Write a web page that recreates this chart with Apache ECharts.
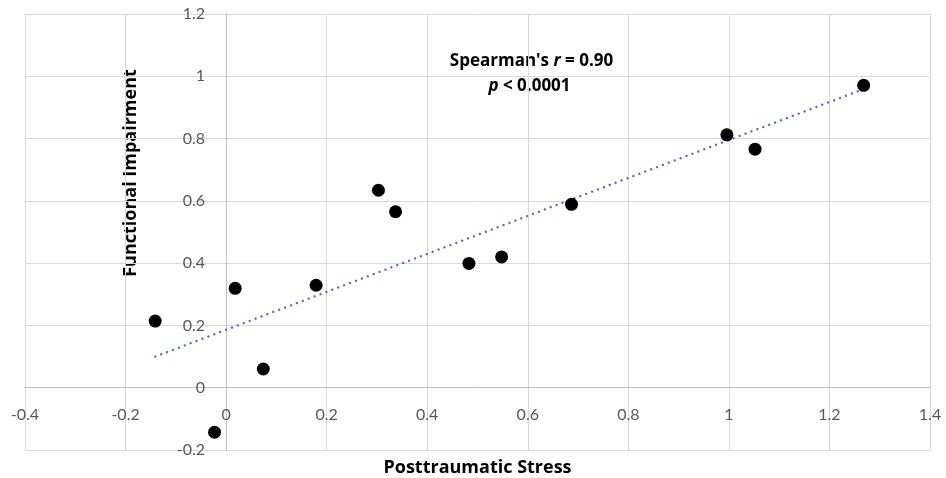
<!DOCTYPE html>
<html>
<head>
<meta charset="utf-8">
<script src="https://cdn.jsdelivr.net/npm/echarts@6/dist/echarts.min.js"></script>
<style>html,body{margin:0;padding:0;background:#fff}#c{width:946px;height:478px}</style>
</head>
<body>
<div id="c"></div>
<script>
// Data
var stressX = [-0.141, 0.018, -0.023, 0.074, 0.179, 0.303, 0.337, 0.483, 0.548, 0.687, 0.996, 1.052, 1.268];
var impairY = [0.214, 0.319, -0.143, 0.060, 0.329, 0.634, 0.565, 0.399, 0.420, 0.589, 0.812, 0.766, 0.971];
var trendX = [-0.141, 1.265];
var trendY = [0.100, 0.957];
var xTitle = 'Posttraumatic Stress';
var yTitle = 'Functional Impairment';

var pts = stressX.map(function (x, i) { return [x, impairY[i]]; });
var trend = trendX.map(function (x, i) { return [x, trendY[i]]; });

var FONT = 'Lato';
var BFONT = 'Open Sans';
var gl = 25, gr = 16, gt = 14, gb = 28, W = 946, H = 478;
var xMin = -0.4, xMax = 1.4, yMin = -0.2, yMax = 1.2;
var pw = W - gl - gr, ph = H - gt - gb;
// axes cross at zero (as in the reference): shift axes to the zero position
var yAxisOffset = -((0 - xMin) / (xMax - xMin) * pw);
var xAxisOffset = -((0 - yMin) / (yMax - yMin) * ph);

var chart = echarts.init(document.getElementById('c'), null, { renderer: 'canvas' });
chart.setOption({
  animation: false,
  backgroundColor: '#ffffff',
  grid: { left: gl, right: gr, top: gt, bottom: gb, containLabel: false, outerBoundsMode: 'none' },
  xAxis: {
    type: 'value', min: xMin, max: xMax, interval: 0.2, offset: xAxisOffset,
    axisLine: { show: true, onZero: false, lineStyle: { color: '#bfbfbf', width: 1 } },
    axisTick: { show: false },
    axisLabel: { color: '#595959', fontFamily: FONT, fontSize: 16, margin: 19,
      formatter: function (v) { return String(Math.round(v * 10) / 10); } },
    splitLine: { show: true, lineStyle: { color: '#d9d9d9', width: 1 } }
  },
  yAxis: {
    type: 'value', min: yMin, max: yMax, interval: 0.2, offset: yAxisOffset,
    axisLine: { show: true, onZero: false, lineStyle: { color: '#bfbfbf', width: 1 } },
    axisTick: { show: false },
    axisLabel: { color: '#595959', fontFamily: FONT, fontSize: 16, margin: 21,
      formatter: function (v) { return String(Math.round(v * 10) / 10); } },
    splitLine: { show: true, lineStyle: { color: '#d9d9d9', width: 1 } }
  },
  series: [
    {
      type: 'line', data: trend, symbol: 'none', silent: true, z: 2,
      lineStyle: { color: '#4472C4', width: 2.4, type: [0.01, 6.3], cap: 'round' }
    },
    {
      type: 'scatter', data: pts, symbol: 'circle', symbolSize: 13, z: 3,
      itemStyle: { color: '#000000', opacity: 1 }
    }
  ],
  graphic: [
    { type: 'text', x: 477.5, y: 468,
      style: { text: xTitle, fontFamily: BFONT, fontWeight: 'bold', fontSize: 18, fill: '#000',
        align: 'center', verticalAlign: 'middle' } },
    { type: 'text', x: 131, y: 173, rotation: Math.PI / 2,
      style: { text: yTitle, fontFamily: BFONT, fontWeight: 'bold', fontSize: 18, fill: '#000',
        align: 'center', verticalAlign: 'middle' } },
    { type: 'text', x: 531.5, y: 61,
      style: { text: "{b|Spearman's }{i|r}{b| = 0.90}", align: 'center', verticalAlign: 'middle',
        rich: {
          b: { fontFamily: BFONT, fontWeight: 'bold', fontSize: 17, color: '#000' },
          i: { fontFamily: BFONT, fontWeight: 'bold', fontStyle: 'italic', fontSize: 17, color: '#000' }
        } } },
    { type: 'text', x: 529.5, y: 86,
      style: { text: "{i|p}{b| < 0.0001}", align: 'center', verticalAlign: 'middle',
        rich: {
          b: { fontFamily: BFONT, fontWeight: 'bold', fontSize: 17, color: '#000' },
          i: { fontFamily: BFONT, fontWeight: 'bold', fontStyle: 'italic', fontSize: 17, color: '#000' }
        } } }
  ]
});
</script>
</body>
</html>
